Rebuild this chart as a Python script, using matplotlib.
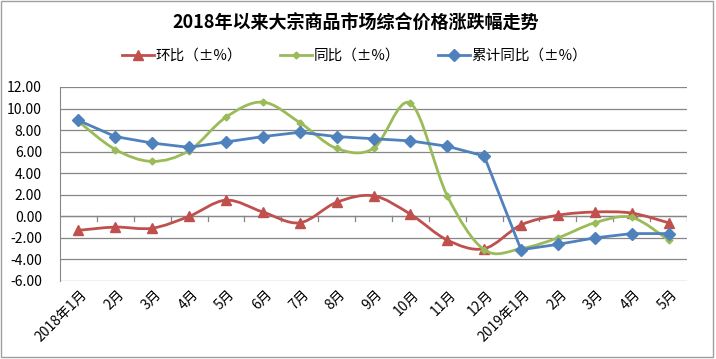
import numpy as np
import matplotlib.pyplot as plt
from matplotlib.path import Path
from matplotlib.patches import PathPatch, Rectangle
from matplotlib.lines import Line2D

plt.rcParams['font.family'] = ['Noto Sans CJK SC', 'DejaVu Sans']

months = ['2018年1月', '2月', '3月', '4月', '5月', '6月', '7月', '8月', '9月',
          '10月', '11月', '12月', '2019年1月', '2月', '3月', '4月', '5月']
huanbi = [-1.3, -1.0, -1.1, 0.0, 1.5, 0.4, -0.6, 1.3, 1.9,
          0.2, -2.2, -3.0, -0.8, 0.1, 0.4, 0.3, -0.6]
tongbi = [8.8, 6.2, 5.1, 6.1, 9.2, 10.6, 8.7, 6.3, 6.3,
          10.5, 1.9, -3.1, -3.0, -2.0, -0.6, -0.1, -2.2]
leiji = [8.9, 7.4, 6.8, 6.4, 6.9, 7.4, 7.8, 7.4, 7.2,
         7.0, 6.5, 5.6, -3.1, -2.6, -2.0, -1.6, -1.6]

red = '#C0504D'
green = '#9BBB59'
blue = '#4F81BD'


def smooth_path(xs, ys):
    # excel-like smoothed line: bezier segments with catmull-rom control points
    pts = np.column_stack([xs, ys]).astype(float)
    n = len(pts)
    verts = [pts[0]]
    codes = [Path.MOVETO]
    for i in range(n - 1):
        p0 = pts[i - 1] if i > 0 else pts[i]
        p1 = pts[i]
        p2 = pts[i + 1]
        p3 = pts[i + 2] if i + 2 < n else pts[i + 1]
        c1 = p1 + (p2 - p0) / 6.0
        c2 = p2 - (p3 - p1) / 6.0
        verts += [c1, c2, p2]
        codes += [Path.CURVE4] * 3
    return Path(verts, codes)


fig = plt.figure(figsize=(7.16, 3.59), dpi=100)
fig.patches.append(Rectangle((0.002, 0.006), 0.994, 0.99, transform=fig.transFigure,
                             fill=False, edgecolor='#A0A0A0', linewidth=1))
ax = fig.add_axes([60 / 716, 1 - 281 / 359, 627 / 716, 194 / 359])

x = np.arange(len(months))

ax.add_patch(PathPatch(smooth_path(x, huanbi), fill=False, edgecolor=red, lw=2.0, zorder=3))
ax.plot(x, huanbi, ls='none', marker='^', ms=6.5, color=red, zorder=4)
ax.add_patch(PathPatch(smooth_path(x, tongbi), fill=False, edgecolor=green, lw=2.0, zorder=5))
ax.plot(x, tongbi, ls='none', marker='D', ms=3.5, color=green, zorder=6)
ax.plot(x, leiji, color=blue, lw=2.0, marker='D', ms=6.5, zorder=7)

ax.set_xlim(-0.5, len(months) - 0.5)
ax.set_ylim(-6, 12)
ax.set_yticks(np.arange(-6, 13, 2))
ax.set_yticklabels(['%.2f' % v for v in np.arange(-6, 13, 2)], fontsize=10)
ax.grid(axis='y', color='#868686', lw=0.9)
ax.set_axisbelow(True)
for s in ['top', 'right', 'bottom']:
    ax.spines[s].set_visible(False)
ax.spines['left'].set_color('#868686')
ax.tick_params(axis='y', length=0, pad=13)

# category axis crossing at zero, ticks between categories
ax.axhline(0, color='#868686', lw=0.9, zorder=1)
for b in np.arange(0.5, len(months) - 0.5, 1):
    ax.plot([b, b], [0, -0.45], color='#868686', lw=0.9, zorder=1)
ax.plot([len(months) - 0.5] * 2, [0, -0.45], color='#868686', lw=0.9, zorder=1)

ax.set_xticks(x)
ax.set_xticklabels([])
ax.tick_params(axis='x', length=0)
for xi, lab in zip(x, months):
    ax.text(xi + 0.05, -6.6, lab, rotation=45, ha='right', va='top',
            rotation_mode='anchor', fontsize=10, transform=ax.transData)

fig.text(0.497, 0.935, '2018年以来大宗商品市场综合价格涨跌幅走势', ha='center', va='center',
         fontsize=13, fontweight='bold')

handles = [Line2D([], [], color=red, lw=2, marker='^', ms=6.5),
           Line2D([], [], color=green, lw=2, marker='D', ms=3.5),
           Line2D([], [], color=blue, lw=2, marker='D', ms=6.5)]
fig.legend(handles, ['环比（±%）', '同比（±%）', '累计同比（±%）'], loc='center',
           bbox_to_anchor=(0.495, 0.845), ncol=3, frameon=False, fontsize=10.5,
           handlelength=2.2, handletextpad=0.1, columnspacing=2.6)

fig.savefig('out.png', dpi=100)
